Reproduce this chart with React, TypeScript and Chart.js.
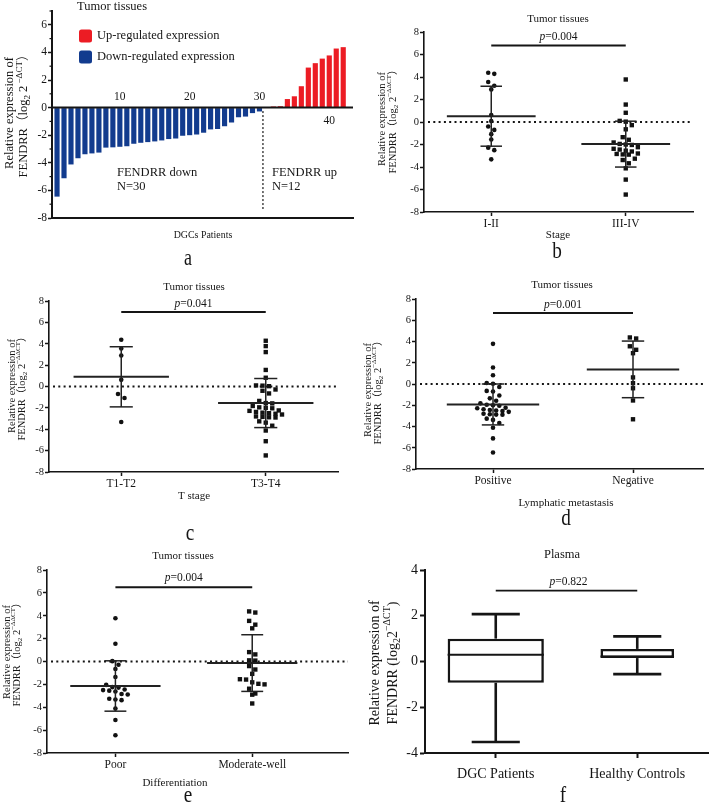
import React, { useEffect, useRef } from 'react';
import { Chart, registerables } from 'chart.js';
Chart.register(...registerables);

const SERIF = '"Liberation Serif", "Times New Roman", "Noto Sans CJK SC", serif';
const INK = '#151515';
const BLUE = '#123b8e';
const RED = '#ec1c24';

// ---------------- Data ----------------
// Panel a (waterfall of 42 DGC patients)
const patientTickLabels = [10, 20, 30, 40];
const aYTicks = [-8, -6, -4, -2, 0, 2, 4, 6];
const downRegulated = [-6.45, -5.12, -4.12, -3.67, -3.38, -3.32, -3.26, -2.9, -2.88, -2.84, -2.8, -2.62, -2.55, -2.5, -2.45, -2.38, -2.28, -2.24, -2.04, -2.0, -1.95, -1.82, -1.58, -1.55, -1.35, -1.08, -0.7, -0.65, -0.4, -0.28];
const upRegulated = [0.03, 0.08, 0.1, 0.62, 0.82, 1.55, 2.9, 3.22, 3.55, 3.78, 4.28, 4.38];

// Scatter panels
const scatterYTicks = [-8, -6, -4, -2, 0, 2, 4, 6, 8];

// Panel b
const stageCats = ['I-II', 'III-IV'];
const stageI_II = [4.38, 4.28, 3.55, 3.22, 2.9, 0.62, 0.08, -0.4, -0.7, -1.08, -1.55, -2.28, -2.5, -3.32];
const stageIII_IV = [3.78, 1.55, 0.82, 0.1, 0.03, -0.28, -0.65, -1.35, -1.58, -1.82, -1.95, -2.0, -2.04, -2.24, -2.38, -2.45, -2.55, -2.62, -2.8, -2.84, -2.88, -2.9, -3.26, -3.38, -3.67, -4.12, -5.12, -6.45];
const stageP = '0.004';

// Panel c
const tStageCats = ['T1-T2', 'T3-T4'];
const tStageT1T2 = [4.38, 3.55, 2.9, 0.62, -0.7, -1.08, -3.32];
const tStageT3T4 = [4.28, 3.78, 3.22, 1.55, 0.82, 0.1, 0.08, 0.03, -0.28, -0.4, -0.65, -1.35, -1.55, -1.58, -1.82, -1.95, -2.0, -2.04, -2.24, -2.28, -2.38, -2.45, -2.5, -2.55, -2.62, -2.8, -2.84, -2.88, -2.9, -3.26, -3.38, -3.67, -4.12, -5.12, -6.45];
const tStageP = '0.041';

// Panel d
const lymphCats = ['Positive', 'Negative'];
const lymphPositive = [3.78, 1.55, 0.82, 0.1, 0.03, -0.28, -0.65, -0.7, -1.08, -1.35, -1.58, -1.82, -1.95, -2.0, -2.04, -2.24, -2.28, -2.38, -2.45, -2.5, -2.55, -2.62, -2.8, -2.84, -2.88, -2.9, -3.26, -3.38, -3.67, -4.12, -5.12, -6.45];
const lymphNegative = [4.38, 4.28, 3.55, 3.22, 2.9, 0.62, 0.08, -0.4, -1.55, -3.32];
const lymphP = '0.001';

// Panel e
const diffCats = ['Poor', 'Moderate-well'];
const diffPoor = [3.78, 1.55, 0.03, -0.28, -0.65, -1.35, -2.04, -2.24, -2.28, -2.45, -2.5, -2.55, -2.62, -2.84, -2.88, -3.26, -3.32, -3.38, -4.12, -5.12, -6.45];
const diffModerate = [4.38, 4.28, 3.55, 3.22, 2.9, 0.82, 0.62, 0.1, 0.08, -0.4, -0.7, -1.08, -1.55, -1.58, -1.82, -1.95, -2.0, -2.38, -2.8, -2.9, -3.67];
const diffP = '0.004';

// Panel f (plasma box plot)
const plasmaCats = ['DGC Patients', 'Healthy Controls'];
const plasmaMin = [-3.52, -0.55];
const plasmaQ1 = [-0.93, 0.15];
const plasmaMedian = [0.3, 0.22];
const plasmaQ3 = [1.0, 0.55];
const plasmaMax = [2.07, 1.1];
const plasmaP = '0.822';
const fYTicks = [-4, -2, 0, 2, 4];

// ---------------- Helpers ----------------
type Seg = { t: string; k?: 'sub' | 'sup' | 'it' };
const segFont = (size: number, k?: string) =>
  k === 'sub' || k === 'sup'
    ? `${Math.round(size * 0.68)}px ${SERIF}`
    : k === 'it'
    ? `italic ${size}px ${SERIF}`
    : `${size}px ${SERIF}`;

function drawRich(
  ctx: CanvasRenderingContext2D,
  segs: Seg[],
  x: number,
  y: number,
  size: number,
  opts: { rotate?: boolean; align?: 'center' | 'left'; sx?: number } = {}
) {
  ctx.save();
  ctx.translate(x, y);
  if (opts.rotate) ctx.rotate(-Math.PI / 2);
  if (opts.sx) ctx.scale(opts.sx, 1);
  ctx.textBaseline = 'middle';
  ctx.textAlign = 'left';
  ctx.fillStyle = INK;
  let total = 0;
  const widths = segs.map((s) => {
    ctx.font = segFont(size, s.k);
    const w = ctx.measureText(s.t).width;
    total += w;
    return w;
  });
  let cx = opts.align === 'left' ? 0 : -total / 2;
  segs.forEach((s, i) => {
    ctx.font = segFont(size, s.k);
    const dy = s.k === 'sub' ? size * 0.3 : s.k === 'sup' ? -size * 0.38 : 0;
    ctx.fillText(s.t, cx, dy);
    cx += widths[i];
  });
  ctx.restore();
}

function seg(ctx: CanvasRenderingContext2D, x1: number, y1: number, x2: number, y2: number) {
  ctx.beginPath();
  ctx.moveTo(x1, y1);
  ctx.lineTo(x2, y2);
  ctx.stroke();
}

const mean = (a: number[]) => a.reduce((s, v) => s + v, 0) / a.length;
const sd = (a: number[]) => {
  const m = mean(a);
  return Math.sqrt(a.reduce((s, v) => s + (v - m) * (v - m), 0) / (a.length - 1));
};

// deterministic beeswarm: values that fall in the same band are spread sideways
function swarm(values: number[], center: number, band: number, step: number) {
  const sorted = [...values].sort((a, b) => b - a);
  const out: { x: number; y: number }[] = [];
  let i = 0;
  while (i < sorted.length) {
    const row = [sorted[i]];
    let j = i + 1;
    while (j < sorted.length && sorted[i] - sorted[j] < band) {
      row.push(sorted[j]);
      j++;
    }
    row.forEach((v, k) => out.push({ x: center + (k - (row.length - 1) / 2) * step, y: v }));
    i = j;
  }
  return out;
}

const yTitleA: Seg[] = [{ t: 'FENDRR（log' }, { t: '2', k: 'sub' }, { t: ' 2' }, { t: ' −ΔCT', k: 'sup' }, { t: '）' }];
const yTitleTissue: Seg[] = [{ t: 'FENDRR（log' }, { t: '2', k: 'sub' }, { t: ' 2' }, { t: '−ΔΔCT', k: 'sup' }, { t: '）' }];
const yTitleF: Seg[] = [{ t: 'FENDRR (log' }, { t: '2', k: 'sub' }, { t: '2' }, { t: '−ΔCT', k: 'sup' }, { t: ')' }];

// ---------------- Panel a ----------------
function makeA() {
  const W = 360, H = 270, L = 52, T = 11, R = 353, B = 218;
  const plugin = {
    id: 'aAnn',
    afterDatasetsDraw(chart: any) {
      const { ctx, chartArea: a, scales } = chart;
      const x = scales.x, y = scales.y;
      const y0 = y.getPixelForValue(0);
      ctx.save();
      ctx.strokeStyle = INK;
      ctx.lineWidth = 2;
      seg(ctx, a.left, y0, a.right, y0);
      ctx.lineWidth = 1.2;
      for (let v = -7; v <= 7; v += 2) {
        const py = y.getPixelForValue(v);
        seg(ctx, a.left - 2.5, py, a.left, py);
      }
      ctx.fillStyle = INK;
      ctx.font = `11.5px ${SERIF}`;
      ctx.textAlign = 'center';
      ctx.textBaseline = 'middle';
      patientTickLabels.forEach((v) => {
        const px = x.getPixelForValue(v);
        const below = v > downRegulated.length;
        ctx.fillText(String(v), px, below ? y0 + 13 : y0 - 11);
      });
      const xd = x.getPixelForValue(downRegulated.length + 0.5);
      ctx.setLineDash([2, 2]);
      ctx.lineWidth = 1.2;
      seg(ctx, xd, y.getPixelForValue(-0.25), xd, y.getPixelForValue(-7.35));
      ctx.restore();
    },
    afterDraw(chart: any) {
      const ctx = chart.ctx as CanvasRenderingContext2D;
      ctx.save();
      drawRich(ctx, [{ t: 'Tumor tissues' }], 112, 7, 12.5);
      const box = (yc: number, col: string) => {
        ctx.fillStyle = col;
        ctx.beginPath();
        (ctx as any).roundRect(79, yc - 6.5, 13, 13, 2.5);
        ctx.fill();
      };
      box(36, RED);
      box(57, BLUE);
      drawRich(ctx, [{ t: 'Up-regulated expression' }], 97, 36, 12.5, { align: 'left' });
      drawRich(ctx, [{ t: 'Down-regulated expression' }], 97, 57, 12.5, { align: 'left' });
      drawRich(ctx, [{ t: 'FENDRR down' }], 117, 173, 12.5, { align: 'left' });
      drawRich(ctx, [{ t: 'N=' + downRegulated.length }], 117, 187, 12.5, { align: 'left' });
      drawRich(ctx, [{ t: 'FENDRR up' }], 272, 173, 12.5, { align: 'left' });
      drawRich(ctx, [{ t: 'N=' + upRegulated.length }], 272, 187, 12.5, { align: 'left' });
      drawRich(ctx, [{ t: 'Relative expression of' }], 10, 113, 12.5, { rotate: true });
      drawRich(ctx, yTitleA, 24, 113, 12.5, { rotate: true });
      drawRich(ctx, [{ t: 'DGCs Patients' }], 203, 235, 11, { sx: 0.9 });
      drawRich(ctx, [{ t: 'a' }], 188, 259, 24, { sx: 0.75 });
      ctx.restore();
    },
  };
  return {
    type: 'bar',
    data: {
      datasets: [
        {
          data: downRegulated.map((v, i) => ({ x: i + 1, y: v })),
          backgroundColor: BLUE,
          barPercentage: 0.74,
          categoryPercentage: 1,
          grouped: false,
        },
        {
          data: upRegulated.map((v, i) => ({ x: downRegulated.length + i + 1, y: v })),
          backgroundColor: RED,
          barPercentage: 0.74,
          categoryPercentage: 1,
          grouped: false,
        },
      ],
    },
    options: {
      responsive: false,
      animation: false,
      devicePixelRatio: 1,
      layout: { padding: { left: 0, top: T, right: W - R, bottom: 0 } },
      plugins: { legend: { display: false }, tooltip: { enabled: false } },
      scales: {
        x: {
          type: 'linear',
          min: 0.28,
          max: 43.4,
          offset: false,
          grid: { display: false, offset: false },
          ticks: { display: false },
          border: { display: true, color: INK, width: 2 },
          afterFit: (s: any) => { s.height = H - B; },
        },
        y: {
          min: -8,
          max: 7,
          afterBuildTicks: (s: any) => { s.ticks = aYTicks.map((v) => ({ value: v })); },
          ticks: { font: { family: SERIF, size: 11.5 }, color: INK, padding: 1 },
          grid: { display: true, drawOnChartArea: false, drawTicks: true, tickLength: 4, tickWidth: 1.5, tickColor: INK },
          border: { display: true, color: INK, width: 2 },
          afterFit: (s: any) => { s.width = L; },
        },
      },
    },
    plugins: [plugin],
  };
}

// ---------------- Scatter panels (b-e) ----------------
type ScatterSpec = {
  W: number; H: number;
  plot: [number, number, number, number];
  xRange: [number, number];
  cats: string[];
  groups: number[][];
  shapes: string[];
  pValue: string; pLineY: number; pTextY: number;
  titleXY: [number, number];
  xTitle: string; xTitleXY: [number, number];
  letter: string; letterXY: [number, number];
  yTitleX: [number, number]; yTitleY: number;
};

function makeScatter(s: ScatterSpec) {
  const [pl, pt, pr, pb] = s.plot;
  const plugin = {
    id: 'scAnn',
    beforeDatasetsDraw(chart: any) {
      const { ctx, chartArea: a, scales } = chart;
      const y0 = scales.y.getPixelForValue(0);
      ctx.save();
      ctx.strokeStyle = INK;
      ctx.lineWidth = 2;
      ctx.setLineDash([2, 3.3]);
      seg(ctx, a.left + 4, y0, a.right, y0);
      ctx.restore();
    },
    afterDatasetsDraw(chart: any) {
      const { ctx, scales } = chart;
      const x = scales.x, y = scales.y;
      ctx.save();
      ctx.strokeStyle = '#222';
      s.groups.forEach((g, i) => {
        const c = i + 1;
        const m = mean(g), d = sd(g);
        const xc = x.getPixelForValue(c);
        const half = x.getPixelForValue(c + 0.33) - xc;
        const cap = x.getPixelForValue(c + 0.08) - xc;
        const ym = y.getPixelForValue(m), yt = y.getPixelForValue(m + d), yb = y.getPixelForValue(m - d);
        ctx.lineWidth = 2;
        seg(ctx, xc - half, ym, xc + half, ym);
        ctx.lineWidth = 1.5;
        seg(ctx, xc, yt, xc, yb);
        seg(ctx, xc - cap, yt, xc + cap, yt);
        seg(ctx, xc - cap, yb, xc + cap, yb);
      });
      ctx.restore();
    },
    afterDraw(chart: any) {
      const { ctx, scales } = chart;
      const x = scales.x, y = scales.y;
      ctx.save();
      ctx.strokeStyle = INK;
      ctx.lineWidth = 2;
      const x1 = x.getPixelForValue(1), x2 = x.getPixelForValue(2);
      const yl = y.getPixelForValue(s.pLineY);
      seg(ctx, x1, yl, x2, yl);
      drawRich(ctx, [{ t: 'p', k: 'it' }, { t: '=' + s.pValue }], (x1 + x2) / 2, y.getPixelForValue(s.pTextY), 11.5);
      drawRich(ctx, [{ t: 'Tumor tissues' }], s.titleXY[0], s.titleXY[1], 11);
      drawRich(ctx, [{ t: s.xTitle }], s.xTitleXY[0], s.xTitleXY[1], 11);
      drawRich(ctx, [{ t: s.letter }], s.letterXY[0], s.letterXY[1], 24, { sx: 0.8 });
      drawRich(ctx, [{ t: 'Relative expression of' }], s.yTitleX[0], s.yTitleY, 10.5, { rotate: true });
      drawRich(ctx, yTitleTissue, s.yTitleX[1], s.yTitleY, 10.5, { rotate: true });
      ctx.restore();
    },
  };
  return {
    type: 'scatter',
    data: {
      datasets: s.groups.map((g, i) => ({
        data: swarm(g, i + 1, 0.45, 0.045),
        pointStyle: s.shapes[i],
        radius: s.shapes[i] === 'rect' ? 3.1 : 2.3,
        backgroundColor: '#111',
        borderColor: '#111',
        borderWidth: 0,
      })),
    },
    options: {
      responsive: false,
      animation: false,
      devicePixelRatio: 1,
      layout: { padding: { left: 0, top: pt, right: s.W - pr, bottom: 0 } },
      plugins: { legend: { display: false }, tooltip: { enabled: false } },
      scales: {
        x: {
          type: 'linear',
          min: s.xRange[0],
          max: s.xRange[1],
          afterBuildTicks: (sc: any) => { sc.ticks = s.cats.map((_, i) => ({ value: i + 1 })); },
          ticks: {
            callback: (v: any) => s.cats[Number(v) - 1] ?? '',
            font: { family: SERIF, size: 11.5 },
            color: INK,
            padding: 1,
            maxRotation: 0,
            autoSkip: false,
          },
          grid: { display: true, drawOnChartArea: false, drawTicks: true, tickLength: 4, tickWidth: 1.5, tickColor: INK },
          border: { display: true, color: INK, width: 1.6 },
          afterFit: (sc: any) => { sc.height = s.H - pb; },
        },
        y: {
          min: -8,
          max: 8,
          afterBuildTicks: (sc: any) => { sc.ticks = scatterYTicks.map((v) => ({ value: v })); },
          ticks: { font: { family: SERIF, size: 10.5 }, color: INK, padding: 1 },
          grid: { display: true, drawOnChartArea: false, drawTicks: true, tickLength: 4, tickWidth: 1.5, tickColor: INK },
          border: { display: true, color: INK, width: 1.6 },
          afterFit: (sc: any) => { sc.width = pl; },
        },
      },
    },
    plugins: [plugin],
  };
}

const makeB = () =>
  makeScatter({
    W: 351, H: 270, plot: [64, 32, 333, 212], xRange: [0.5, 2.5],
    cats: stageCats, groups: [stageI_II, stageIII_IV], shapes: ['circle', 'rect'],
    pValue: stageP, pLineY: 6.8, pTextY: 7.6,
    titleXY: [198, 19], xTitle: 'Stage', xTitleXY: [198, 235], letter: 'b', letterXY: [197, 252],
    yTitleX: [22, 33], yTitleY: 119,
  });
const makeC = () =>
  makeScatter({
    W: 360, H: 270, plot: [49, 31, 338, 202], xRange: [0.5, 2.5],
    cats: tStageCats, groups: [tStageT1T2, tStageT3T4], shapes: ['circle', 'rect'],
    pValue: tStageP, pLineY: 6.97, pTextY: 7.75,
    titleXY: [194, 17], xTitle: 'T stage', xTitleXY: [194, 226], letter: 'c', letterXY: [190, 264],
    yTitleX: [12, 22], yTitleY: 116,
  });
const makeD = () =>
  makeScatter({
    W: 351, H: 270, plot: [56, 29, 343, 199], xRange: [0.45, 2.5],
    cats: lymphCats, groups: [lymphPositive, lymphNegative], shapes: ['circle', 'rect'],
    pValue: lymphP, pLineY: 6.68, pTextY: 7.45,
    titleXY: [202, 15], xTitle: 'Lymphatic metastasis', xTitleXY: [206, 233], letter: 'd', letterXY: [206, 249],
    yTitleX: [8, 18], yTitleY: 120,
  });
const makeE = () =>
  makeScatter({
    W: 360, H: 263, plot: [47, 30, 348, 213], xRange: [0.5, 2.7],
    cats: diffCats, groups: [diffPoor, diffModerate], shapes: ['circle', 'rect'],
    pValue: diffP, pLineY: 6.5, pTextY: 7.3,
    titleXY: [183, 16], xTitle: 'Differentiation', xTitleXY: [175, 243], letter: 'e', letterXY: [188, 256],
    yTitleX: [7, 17], yTitleY: 112,
  });

// ---------------- Panel f ----------------
function makeF() {
  const W = 351, H = 263, L = 65, T = 30, R = 348, B = 213;
  const plugin = {
    id: 'fAnn',
    afterDatasetsDraw(chart: any) {
      const { ctx, scales } = chart;
      const x = scales.x, y = scales.y;
      ctx.save();
      ctx.strokeStyle = INK;
      ctx.lineWidth = 2.6;
      plasmaCats.forEach((_, i) => {
        const c = i + 1;
        const xc = x.getPixelForValue(c);
        const cap = x.getPixelForValue(c + 0.17) - xc;
        const boxHalf = x.getPixelForValue(c + (i === 0 ? 0.34 : 0.26)) - xc;
        const yMax = y.getPixelForValue(plasmaMax[i]);
        const yMin = y.getPixelForValue(plasmaMin[i]);
        const yQ1 = y.getPixelForValue(plasmaQ1[i]);
        const yQ3 = y.getPixelForValue(plasmaQ3[i]);
        const yMed = y.getPixelForValue(plasmaMedian[i]);
        seg(ctx, xc, yMax, xc, yQ3);
        seg(ctx, xc, yQ1, xc, yMin);
        seg(ctx, xc - cap, yMax, xc + cap, yMax);
        seg(ctx, xc - cap, yMin, xc + cap, yMin);
        ctx.lineWidth = 2;
        seg(ctx, xc - boxHalf, yMed, xc + boxHalf, yMed);
        ctx.lineWidth = 2.6;
      });
      ctx.restore();
    },
    afterDraw(chart: any) {
      const { ctx, scales } = chart;
      const x = scales.x, y = scales.y;
      ctx.save();
      ctx.strokeStyle = INK;
      ctx.lineWidth = 1.6;
      const x1 = x.getPixelForValue(1), x2 = x.getPixelForValue(2);
      const yl = y.getPixelForValue(3.1);
      seg(ctx, x1, yl, x2, yl);
      drawRich(ctx, [{ t: 'p', k: 'it' }, { t: '=' + plasmaP }], (x1 + x2) / 2 + 2, y.getPixelForValue(3.47), 11.5);
      drawRich(ctx, [{ t: 'Plasma' }], 202, 15, 12.5);
      drawRich(ctx, [{ t: 'Relative expression of' }], 15, 123, 14, { rotate: true });
      drawRich(ctx, yTitleF, 33, 123, 14, { rotate: true });
      drawRich(ctx, [{ t: 'f' }], 203, 256, 24, { sx: 0.8 });
      ctx.restore();
    },
  };
  return {
    type: 'bar',
    data: {
      datasets: plasmaCats.map((_, i) => ({
        data: [{ x: i + 1, y: [plasmaQ1[i], plasmaQ3[i]] }],
        backgroundColor: '#ffffff',
        borderColor: INK,
        borderWidth: 2.6,
        borderSkipped: false,
        barPercentage: i === 0 ? 0.68 : 0.52,
        categoryPercentage: 1,
        grouped: false,
      })),
    },
    options: {
      responsive: false,
      animation: false,
      devicePixelRatio: 1,
      layout: { padding: { left: 0, top: T, right: W - R, bottom: 0 } },
      plugins: { legend: { display: false }, tooltip: { enabled: false } },
      scales: {
        x: {
          type: 'linear',
          min: 0.5,
          max: 2.5,
          offset: false,
          afterBuildTicks: (sc: any) => { sc.ticks = plasmaCats.map((_, i) => ({ value: i + 1 })); },
          ticks: {
            callback: (v: any) => plasmaCats[Number(v) - 1] ?? '',
            font: { family: SERIF, size: 14 },
            color: INK,
            padding: 8,
            maxRotation: 0,
            autoSkip: false,
          },
          grid: { display: true, offset: false, drawOnChartArea: false, drawTicks: true, tickLength: 5, tickWidth: 2, tickColor: INK },
          border: { display: true, color: INK, width: 2 },
          afterFit: (sc: any) => { sc.height = H - B; },
        },
        y: {
          min: -4,
          max: 4,
          afterBuildTicks: (sc: any) => { sc.ticks = fYTicks.map((v) => ({ value: v })); },
          ticks: { font: { family: SERIF, size: 14 }, color: INK, padding: 2 },
          grid: { display: true, drawOnChartArea: false, drawTicks: true, tickLength: 5, tickWidth: 2, tickColor: INK },
          border: { display: true, color: INK, width: 2 },
          afterFit: (sc: any) => { sc.width = L; },
        },
      },
    },
    plugins: [plugin],
  };
}

// ---------------- Components ----------------
function ChartBox(props: { left: number; top: number; width: number; height: number; make: () => any }) {
  const ref = useRef<HTMLCanvasElement>(null);
  useEffect(() => {
    const chart = new Chart(ref.current as HTMLCanvasElement, props.make());
    return () => chart.destroy();
  }, []);
  return (
    <canvas
      ref={ref}
      width={props.width}
      height={props.height}
      style={{ position: 'absolute', left: props.left, top: props.top, width: props.width, height: props.height }}
    />
  );
}

export default function App() {
  return (
    <div style={{ position: 'absolute', left: 0, top: 0, width: 711, height: 803, background: '#fff', overflow: 'hidden' }}>
      <ChartBox left={0} top={0} width={360} height={270} make={makeA} />
      <ChartBox left={360} top={0} width={351} height={270} make={makeB} />
      <ChartBox left={0} top={270} width={360} height={270} make={makeC} />
      <ChartBox left={360} top={270} width={351} height={270} make={makeD} />
      <ChartBox left={0} top={540} width={360} height={263} make={makeE} />
      <ChartBox left={360} top={540} width={351} height={263} make={makeF} />
    </div>
  );
}
